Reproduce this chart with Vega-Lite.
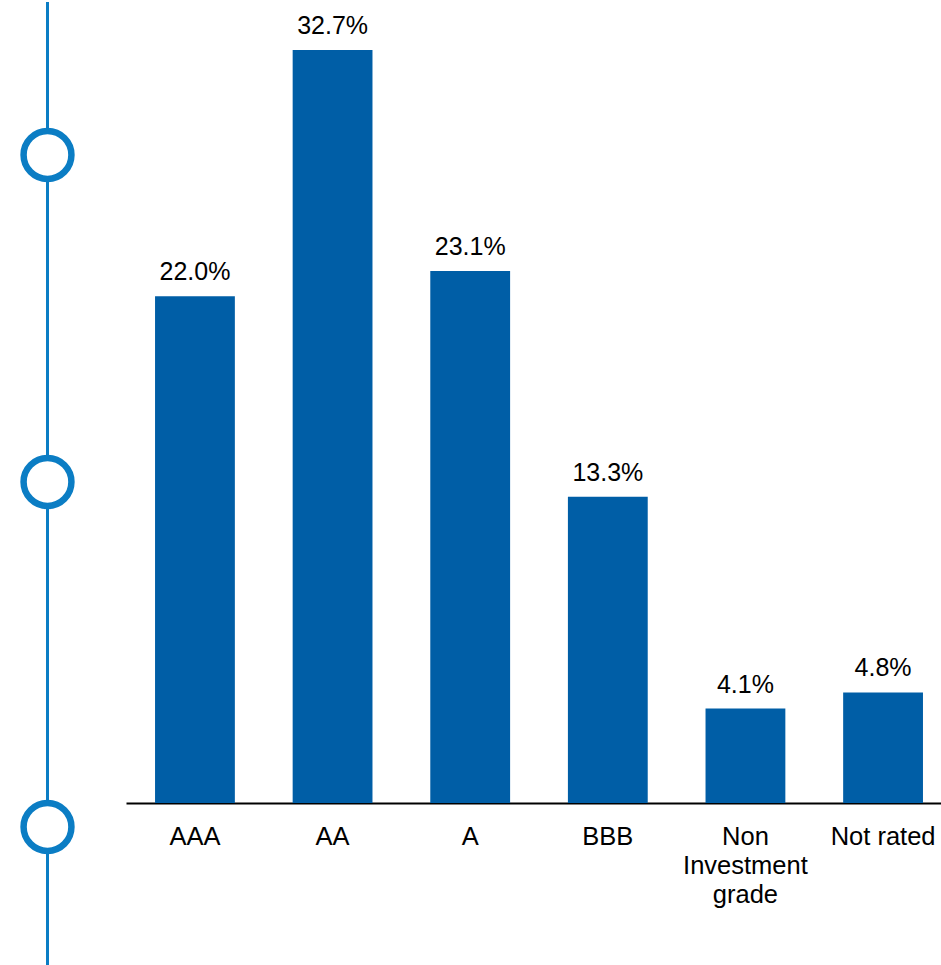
{
  "$schema": "https://vega.github.io/schema/vega-lite/v6.json",
  "padding": 0,
  "spacing": 0,
  "config": {"view": {"stroke": null}, "font": "Liberation Sans"},
  "hconcat": [
    {
      "width": 126,
      "height": 965,
      "data": {"values": [
        {"kind": "line", "px": 47.5, "py": 0, "py2": 100},
        {"kind": "node", "px": 47.5, "py": 15.85},
        {"kind": "node", "px": 47.5, "py": 49.74},
        {"kind": "node", "px": 47.5, "py": 85.49}
      ]},
      "layer": [
        {
          "transform": [{"filter": "datum.kind == 'line'"}],
          "mark": {"type": "rule", "color": "#0b7dc4", "strokeWidth": 3},
          "encoding": {
            "x": {"field": "px", "type": "quantitative", "scale": {"domain": [0, 126]}, "axis": null},
            "y": {"field": "py", "type": "quantitative", "scale": {"domain": [0, 100], "reverse": true}, "axis": null},
            "y2": {"field": "py2"}
          }
        },
        {
          "transform": [{"filter": "datum.kind == 'node'"}],
          "mark": {"type": "point", "shape": "circle", "filled": false, "fill": "white", "fillOpacity": 1, "stroke": "#0b7dc4", "strokeWidth": 6.5, "opacity": 1, "size": 2290},
          "encoding": {
            "x": {"field": "px", "type": "quantitative", "scale": {"domain": [0, 126]}, "axis": null},
            "y": {"field": "py", "type": "quantitative", "scale": {"domain": [0, 100], "reverse": true}, "axis": null}
          }
        }
      ]
    },
    {
      "width": 815,
      "height": 801,
      "data": {"values": [
        {"rating": "AAA", "share": 0.220},
        {"rating": "AA", "share": 0.327},
        {"rating": "A", "share": 0.231},
        {"rating": "BBB", "share": 0.133},
        {"rating": "Non Investment grade", "share": 0.041},
        {"rating": "Not rated", "share": 0.048}
      ]},
      "encoding": {
        "x": {
          "field": "rating", "type": "nominal", "sort": null,
          "scale": {"paddingInner": 0.42, "paddingOuter": 0.171, "align": 0.617},
          "axis": {
            "title": null, "ticks": false, "grid": false,
            "domainColor": "#000000", "domainWidth": 2,
            "labelAngle": 0, "labelFont": "Liberation Sans", "labelFontSize": 25.5,
            "labelColor": "#000000", "labelBaseline": "alphabetic", "labelPadding": 41,
            "labelLineHeight": 29, "labelLimit": 0,
            "labelExpr": "datum.label == 'Non Investment grade' ? ['Non', 'Investment', 'grade'] : datum.label"
          }
        },
        "y": {"field": "share", "type": "quantitative", "scale": {"domain": [0, 0.3478]}, "axis": null}
      },
      "layer": [
        {"mark": {"type": "bar", "color": "#005ea6"}},
        {
          "mark": {"type": "text", "baseline": "alphabetic", "dy": -16, "fontSize": 25, "font": "Liberation Sans", "color": "#000000"},
          "encoding": {"text": {"field": "share", "type": "quantitative", "format": ".1%"}}
        }
      ]
    }
  ]
}
